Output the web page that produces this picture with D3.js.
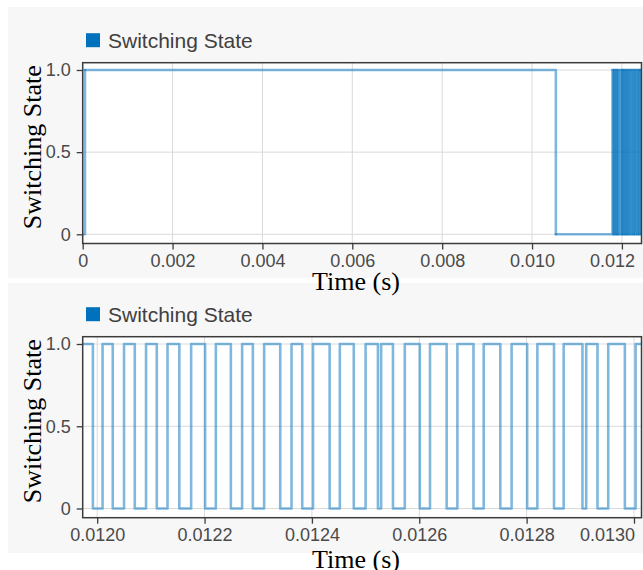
<!DOCTYPE html>
<html>
<head>
<meta charset="utf-8">
<script src="https://cdn.jsdelivr.net/npm/d3@7"></script>
<style>
body { margin: 0; background: #fff; }
svg { display: block; }
.tick text { font-family: "Liberation Sans", Arial, sans-serif; font-size: 18px; fill: #4a4a4a; }
</style>
</head>
<body>
<div id="chart"></div>
<script>
// switching instants (s) and the state reached at each instant
var switchTimes = [
    0, 0.00005, 0.01053, 0.01179, 0.011808, 0.011829, 0.011849, 0.011870,
    0.011889, 0.011910, 0.011928, 0.011968, 0.011992, 0.012010, 0.012029, 0.012050,
    0.012070, 0.012091, 0.012111, 0.012131, 0.012153, 0.012175, 0.012201, 0.012221,
    0.012249, 0.012270, 0.012290, 0.012311, 0.012341, 0.012362, 0.012382, 0.012402,
    0.012433, 0.012452, 0.012478, 0.012500, 0.012523, 0.012529, 0.012551, 0.012573,
    0.012601, 0.012620, 0.012651, 0.012671, 0.012701, 0.012720, 0.012751, 0.012772,
    0.012801, 0.012820, 0.012851, 0.012869, 0.012904, 0.012911, 0.012932, 0.012952,
    0.012983, 0.013003
];
var switchStates = [
    0, 1, 0, 1, 0, 1, 0, 1,
    0, 1, 0, 1, 0, 1, 0, 1,
    0, 1, 0, 1, 0, 1, 0, 1,
    0, 1, 0, 1, 0, 1, 0, 1,
    0, 1, 0, 1, 0, 1, 0, 1,
    0, 1, 0, 1, 0, 1, 0, 1,
    0, 1, 0, 1, 0, 1, 0, 1,
    0, 1
];

var seriesName = "Switching State";
var xTitle = "Time (s)";

var topXDomain = [0, 0.012436];
var topXTicks = [0, 0.002, 0.004, 0.006, 0.008, 0.010, 0.012];
var topXLabels = ["0", "0.002", "0.004", "0.006", "0.008", "0.010", "0.012"];

var bottomXDomain = [0.011973, 0.013014];
var bottomXTicks = [0.0120, 0.0122, 0.0124, 0.0126, 0.0128, 0.0130];
var bottomXLabels = ["0.0120", "0.0122", "0.0124", "0.0126", "0.0128", "0.0130"];

var yTicks = [0, 0.5, 1];
var yLabels = ["0", "0.5", "1.0"];

var w = 643, h = 570;
var left = 82.7, right = 641.5;
var labelEdge = 634.5; // tick labels are kept left of this
var lineColor = "#0072bd";

var panels = [
    { id: "top", bgTop: 7, bgBottom: 278, frameTop: 62.7, frameBottom: 243.5,
      xDomain: topXDomain, xTicks: topXTicks, xLabels: topXLabels,
      titleY: 290, split: true },
    { id: "bottom", bgTop: 283, bgBottom: 553, frameTop: 336.7, frameBottom: 517.7,
      xDomain: bottomXDomain, xTicks: bottomXTicks, xLabels: bottomXLabels,
      titleY: 568, split: false }
];

var svg = d3.select("#chart")
    .append("svg")
    .attr("width", w)
    .attr("height", h);

var points = switchTimes.map(function (t, i) {
    return { t: t, s: switchStates[i] };
});

// light gray panel backgrounds go first so titles can sit on top of them
svg.selectAll(".bg")
    .data(panels)
    .enter().append("rect")
    .attr("x", 8)
    .attr("y", function (d) { return d.bgTop; })
    .attr("width", w - 8)
    .attr("height", function (d) { return d.bgBottom - d.bgTop; })
    .attr("fill", "#f7f7f7");

function drawPanel(cfg) {
    var g = svg.append("g");

    var x = d3.scaleLinear().domain(cfg.xDomain).range([left, right]);
    var y = d3.scaleLinear().domain([0, 1])
        .range([cfg.frameBottom - 9.2, cfg.frameTop + 7.3]);

    g.append("rect")
        .attr("x", left).attr("y", cfg.frameTop)
        .attr("width", right - left).attr("height", cfg.frameBottom - cfg.frameTop)
        .attr("fill", "#fff");

    // grid
    g.selectAll(".vgrid")
        .data(cfg.xTicks)
        .enter().append("line")
        .attr("x1", function (d) { return x(d); })
        .attr("x2", function (d) { return x(d); })
        .attr("y1", cfg.frameTop).attr("y2", cfg.frameBottom)
        .attr("stroke", "#dadada");
    g.selectAll(".hgrid")
        .data(yTicks)
        .enter().append("line")
        .attr("x1", left).attr("x2", right)
        .attr("y1", function (d) { return y(d); })
        .attr("y2", function (d) { return y(d); })
        .attr("stroke", "#dadada");

    var clipId = "clip" + cfg.id;
    svg.append("clipPath").attr("id", clipId)
        .append("rect")
        .attr("x", left).attr("y", cfg.frameTop)
        .attr("width", right - left).attr("height", cfg.frameBottom - cfg.frameTop);

    var pts = points.slice();
    pts.push({ t: cfg.xDomain[1], s: pts[pts.length - 1].s });

    var line = d3.line()
        .x(function (d) { return x(d.t); })
        .y(function (d) { return y(d.s); })
        .curve(d3.curveStepAfter);

    var plot = g.append("g").attr("clip-path", "url(#" + clipId + ")");

    if (cfg.split) {
        // each step drawn on its own so dense switching builds up colour
        plot.selectAll("path")
            .data(d3.pairs(pts))
            .enter().append("path")
            .attr("d", line)
            .attr("fill", "none")
            .attr("stroke", lineColor)
            .attr("stroke-opacity", 0.5)
            .attr("stroke-width", 2.6)
            .attr("stroke-linecap", "round")
            .attr("stroke-linejoin", "round");
    } else {
        plot.append("path")
            .datum(pts)
            .attr("d", line)
            .attr("fill", "none")
            .attr("stroke", lineColor)
            .attr("stroke-opacity", 0.5)
            .attr("stroke-width", 2.6)
            .attr("stroke-linejoin", "round");
    }

    // frame
    g.append("rect")
        .attr("x", left).attr("y", cfg.frameTop)
        .attr("width", right - left).attr("height", cfg.frameBottom - cfg.frameTop)
        .attr("fill", "none")
        .attr("stroke", "#3c3c3c")
        .attr("stroke-width", 1.5);

    var xAxis = g.append("g")
        .attr("transform", "translate(0," + cfg.frameBottom + ")")
        .call(d3.axisBottom(x)
            .tickValues(cfg.xTicks)
            .tickFormat(function (d, i) { return cfg.xLabels[i]; })
            .tickSize(6)
            .tickPadding(5));
    xAxis.select(".domain").remove();
    xAxis.selectAll(".tick line").attr("stroke", "#3c3c3c").attr("stroke-width", 1.3);

    // labels that would run past the frame are pulled back inside
    xAxis.selectAll(".tick text").each(function (d) {
        var box = this.getBBox();
        var overshoot = x(d) + box.width / 2 - labelEdge;
        if (overshoot > 0) d3.select(this).attr("x", -overshoot);
    });

    var yAxis = g.append("g")
        .attr("transform", "translate(" + left + ",0)")
        .call(d3.axisLeft(y)
            .tickValues(yTicks)
            .tickFormat(function (d, i) { return yLabels[i]; })
            .tickSize(6)
            .tickPadding(6));
    yAxis.select(".domain").remove();
    yAxis.selectAll(".tick line").attr("stroke", "#3c3c3c").attr("stroke-width", 1.3);

    // legend
    g.append("rect")
        .attr("x", 86).attr("y", cfg.frameTop - 29.5)
        .attr("width", 14).attr("height", 14)
        .attr("fill", lineColor);
    g.append("text")
        .attr("x", 108).attr("y", cfg.frameTop - 15.2)
        .style("font-family", '"Liberation Sans", Arial, sans-serif')
        .style("font-size", "21px")
        .attr("fill", "#404040")
        .text(seriesName);

    // axis titles
    g.append("text")
        .attr("transform", "translate(41," + (cfg.frameTop + 84.5) + ") rotate(-90)")
        .attr("text-anchor", "middle")
        .style("font-family", '"Liberation Serif", "Times New Roman", serif')
        .style("font-size", "26px")
        .attr("fill", "#000")
        .text(seriesName);
    g.append("text")
        .attr("x", 356).attr("y", cfg.titleY)
        .attr("text-anchor", "middle")
        .style("font-family", '"Liberation Serif", "Times New Roman", serif')
        .style("font-size", "26px")
        .attr("fill", "#000")
        .text(xTitle);
}

panels.forEach(drawPanel);
</script>
</body>
</html>
